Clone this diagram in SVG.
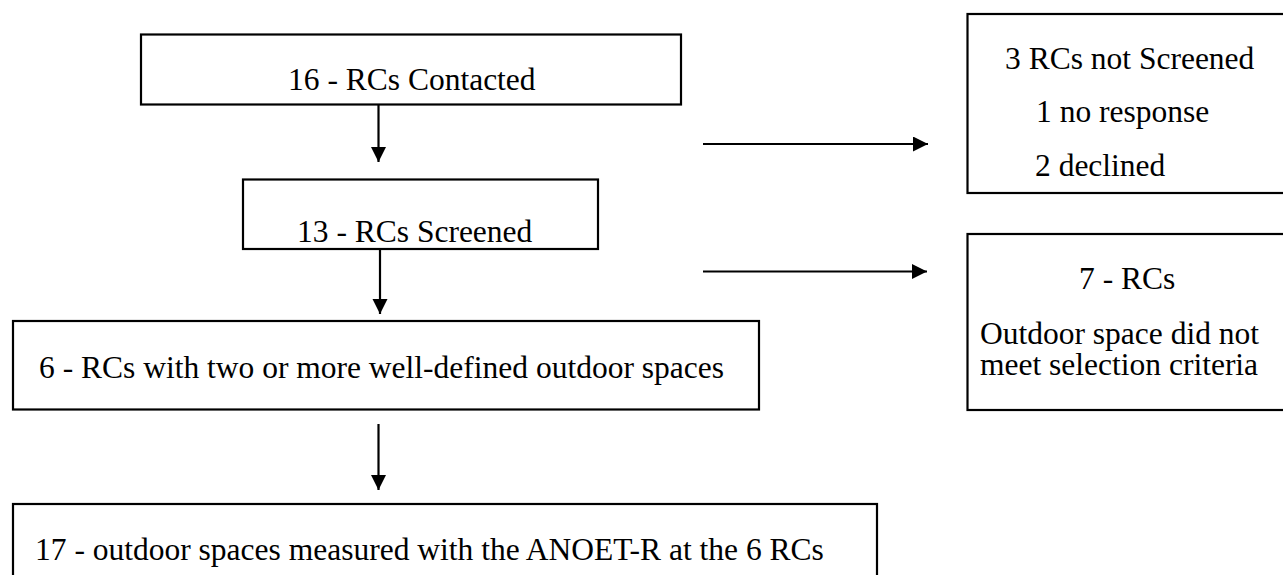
<svg xmlns="http://www.w3.org/2000/svg" width="1283" height="575" viewBox="0 0 1283 575">
  <style>
    .box { fill: #ffffff; stroke: #000000; stroke-width: 2.2; }
    .lbl { font-family: 'Liberation Serif', Tinos, 'Times New Roman', 'DejaVu Serif', serif; font-size: 31.5px; fill: #000000; }
    .conn { stroke: #000000; stroke-width: 2.2; fill: none; marker-end: url(#arrow); }
  </style>
  <defs>
    <marker id="arrow" markerUnits="userSpaceOnUse" markerWidth="16" markerHeight="16" refX="15" refY="7.5" orient="auto">
      <path d="M0,0 L15,7.5 L0,15 Z" fill="#000000"/>
    </marker>
  </defs>
  <rect width="1283" height="575" fill="#ffffff"/>

  <g id="node-contacted">
    <rect class="box" x="141" y="34.5" width="540" height="70"/>
    <text class="lbl" font-family="Liberation Serif, serif" x="288" y="90">16 - RCs Contacted</text>
  </g>
  <g id="node-screened">
    <rect class="box" x="243" y="179.5" width="355" height="69.5"/>
    <text class="lbl" font-family="Liberation Serif, serif" x="297" y="241.5">13 - RCs Screened</text>
  </g>
  <g id="node-two-or-more">
    <rect class="box" x="13" y="321" width="746" height="88.5"/>
    <text class="lbl" font-family="Liberation Serif, serif" x="39" y="378">6 - RCs with two or more well-defined outdoor spaces</text>
  </g>
  <g id="node-measured">
    <rect class="box" x="13" y="504" width="864" height="90"/>
    <text class="lbl" font-family="Liberation Serif, serif" x="35" y="560">17 - outdoor spaces measured with the ANOET-R at the 6 RCs</text>
  </g>
  <g id="node-not-screened">
    <rect class="box" x="967.5" y="14" width="330" height="179"/>
    <text class="lbl" font-family="Liberation Serif, serif" x="1005" y="69">3 RCs not Screened</text>
    <text class="lbl" font-family="Liberation Serif, serif" x="1036" y="121.5">1 no response</text>
    <text class="lbl" font-family="Liberation Serif, serif" x="1035" y="175.5">2 declined</text>
  </g>
  <g id="node-excluded">
    <rect class="box" x="967.5" y="234" width="330" height="176"/>
    <text class="lbl" font-family="Liberation Serif, serif" x="1079" y="289">7 - RCs</text>
    <text class="lbl" font-family="Liberation Serif, serif" x="980" y="344">Outdoor space did not</text>
    <text class="lbl" font-family="Liberation Serif, serif" x="980" y="374.5">meet selection criteria</text>
  </g>

  <g id="connectors">
    <line class="conn" x1="378.5" y1="104.5" x2="378.5" y2="162"/>
    <line class="conn" x1="380" y1="249" x2="380" y2="314"/>
    <line class="conn" x1="378.5" y1="424" x2="378.5" y2="490"/>
    <line class="conn" x1="703" y1="144" x2="928" y2="144"/>
    <line class="conn" x1="703" y1="271.5" x2="927" y2="271.5"/>
  </g>
</svg>
